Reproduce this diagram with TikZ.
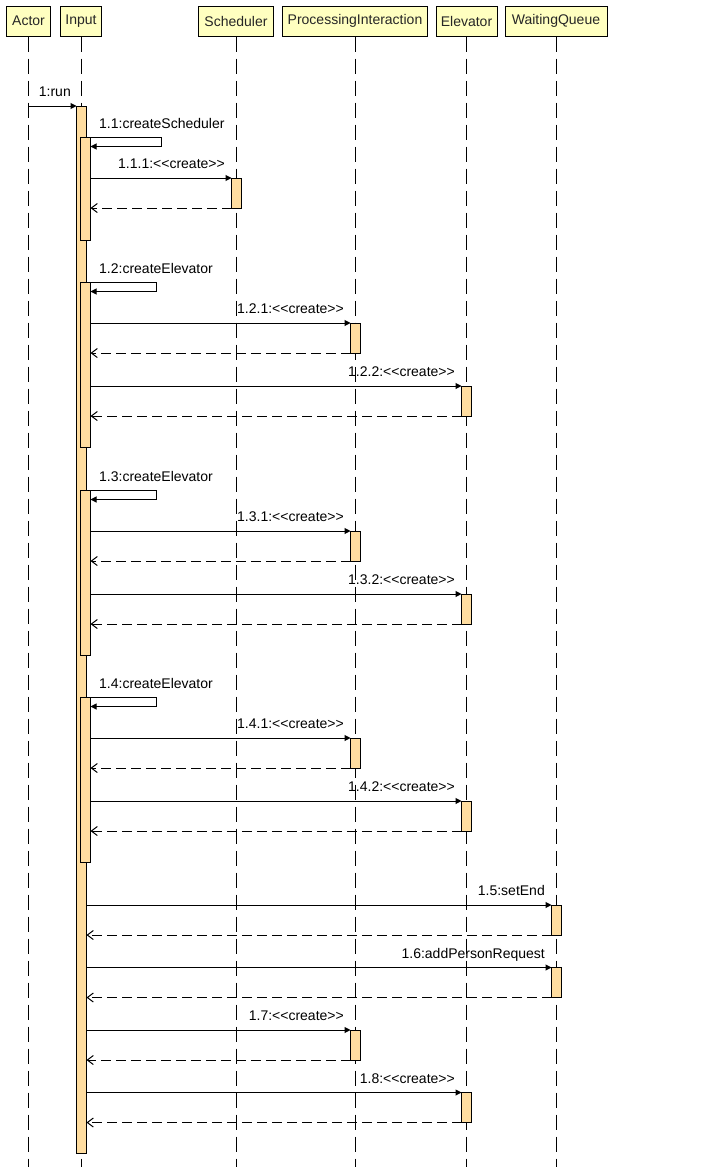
\documentclass[tikz,border=0pt]{standalone}
\usepackage{fontspec}
\newfontfamily\diafont{Liberation Sans}
\usetikzlibrary{arrows.meta}
\definecolor{headfill}{RGB}{255,255,192}
\definecolor{actfill}{RGB}{255,221,160}
\newcommand\callret[3]{%
  \draw[msg] (#1.east |- #2.north) -- (#2.north west);
  \node[lbl] at ([shift={(-6.5,-9.5)}]#2.north west) {#3};
  \draw[ret] (#2.south west) -- (#1.east |- #2.south west);}
\begin{document}
\begin{tikzpicture}[x=1pt,y=-1pt,
  every node/.style={font=\diafont\fontsize{14}{16}\selectfont},
  head/.style={draw=black, line width=1pt, fill=headfill, minimum height=30pt, inner sep=0pt, text=black!85},
  lifeline/.style={line width=1pt, dash pattern=on 15pt off 7pt},
  actbar/.style={draw=black, line width=1pt, fill=actfill, minimum width=10pt, inner sep=0pt, outer sep=0pt, anchor=north},
  msg/.style={line width=1pt, -{Triangle[length=6pt,width=6pt]}},
  ret/.style={line width=1pt, dash pattern=on 10pt off 5pt, -{Straight Barb[length=6pt,width=9pt]}},
  lbl/.style={inner sep=0pt, anchor=base east},
  slbl/.style={inner sep=0pt, anchor=base west}]
\useasboundingbox (0,0) rectangle (716,1167);
\fill[white] (0,0) rectangle (716,1167);
% headers
\node[head, minimum width=44pt]  (hA) at (28.5,21) {Actor};
\node[head, minimum width=41pt]  (hI) at (81,21) {Input};
\node[head, minimum width=75pt]  (hS) at (236,21) {Scheduler};
\node[head, minimum width=145pt] (hP) at (355,21) {ProcessingInteraction};
\node[head, minimum width=61pt]  (hE) at (466.5,21) {Elevator};
\node[head, minimum width=102pt] (hW) at (556,21) {WaitingQueue};
\coordinate (bot) at (0,1167);
\foreach \h in {hA,hI,hS,hP,hE,hW}{\draw[lifeline] (\h.south) -- (\h.south |- bot);}
% activation bars
\node[actbar, minimum height=1047pt] (main) at (81.5,106) {};
\node[actbar, minimum height=103pt] (n1) at (85.5,137) {};
\node[actbar, minimum height=30pt] (s1) at (236.5,178) {};
\node[actbar, minimum height=165pt] (n2) at (85.5,282) {};
\node[actbar, minimum height=30pt] (p2) at (355.5,323) {};
\node[actbar, minimum height=30pt] (e2) at (466.5,386) {};
\node[actbar, minimum height=165pt] (n3) at (85.5,490) {};
\node[actbar, minimum height=30pt] (p3) at (355.5,531) {};
\node[actbar, minimum height=30pt] (e3) at (466.5,594) {};
\node[actbar, minimum height=165pt] (n4) at (85.5,697) {};
\node[actbar, minimum height=30pt] (p4) at (355.5,738) {};
\node[actbar, minimum height=30pt] (e4) at (466.5,801) {};
\node[actbar, minimum height=30pt] (w5) at (556.5,905) {};
\node[actbar, minimum height=30pt] (w6) at (556.5,967.5) {};
\node[actbar, minimum height=30pt] (p7) at (355.5,1030) {};
\node[actbar, minimum height=30pt] (e8) at (466.5,1092.5) {};
% 1:run
\draw[msg] (hA.south |- main.north) -- (main.north west);
\node[lbl] at ([shift={(-5.5,-9.5)}]main.north west) {1:run};
% 1.1
\draw[msg] (n1.north east) -- ++(70.5,0) -- ++(0,9.5) -- ++(-70.5,0);
\node[slbl] at ([shift={(8.5,-9)}]n1.north east) {1.1:createScheduler};
\callret{n1}{s1}{1.1.1:<<create>>}
% 1.2
\draw[msg] (n2.north east) -- ++(65.5,0) -- ++(0,9.5) -- ++(-65.5,0);
\node[slbl] at ([shift={(8.5,-9)}]n2.north east) {1.2:createElevator};
\callret{n2}{p2}{1.2.1:<<create>>}
\callret{n2}{e2}{1.2.2:<<create>>}
% 1.3
\draw[msg] (n3.north east) -- ++(65.5,0) -- ++(0,9.5) -- ++(-65.5,0);
\node[slbl] at ([shift={(8.5,-9)}]n3.north east) {1.3:createElevator};
\callret{n3}{p3}{1.3.1:<<create>>}
\callret{n3}{e3}{1.3.2:<<create>>}
% 1.4
\draw[msg] (n4.north east) -- ++(65.5,0) -- ++(0,9.5) -- ++(-65.5,0);
\node[slbl] at ([shift={(8.5,-9)}]n4.north east) {1.4:createElevator};
\callret{n4}{p4}{1.4.1:<<create>>}
\callret{n4}{e4}{1.4.2:<<create>>}
% 1.5 - 1.8
\callret{main}{w5}{1.5:setEnd}
\callret{main}{w6}{1.6:addPersonRequest}
\callret{main}{p7}{1.7:<<create>>}
\callret{main}{e8}{1.8:<<create>>}
\end{tikzpicture}
\end{document}
